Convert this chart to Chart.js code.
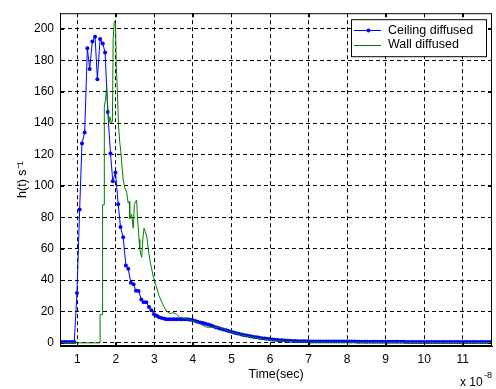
<!DOCTYPE html>
<html>
<head>
<meta charset="utf-8">
<script src="https://cdn.jsdelivr.net/npm/chart.js@4/dist/chart.umd.min.js"></script>
<style>
    body { margin: 0; background: #fff; }
    .chart-container { position: relative; width: 496px; height: 389px; }
</style>
</head>
<body>
<div class="chart-container"><canvas id="impulseChart"></canvas></div>
<script>
// Time axis is in units of 1e-8 s
const xTicks = [1, 2, 3, 4, 5, 6, 7, 8, 9, 10, 11];
const yTicks = [0, 20, 40, 60, 80, 100, 120, 140, 160, 180, 200];

// Ceiling diffused (blue, with markers)
const ceilingTime = [
    0.52, 0.59, 0.66, 0.72, 0.79, 0.86, 0.92, 0.99, 1.06, 1.12,
    1.19, 1.26, 1.32, 1.39, 1.46, 1.52, 1.59, 1.66, 1.72, 1.79,
    1.86, 1.92, 1.99, 2.06, 2.12, 2.19, 2.26, 2.32, 2.39, 2.46,
    2.52, 2.59, 2.66, 2.72, 2.79, 2.86, 2.92, 2.99, 3.06, 3.12,
    3.19, 3.26, 3.32, 3.39, 3.46, 3.52, 3.59, 3.66, 3.72, 3.79,
    3.86, 3.92, 3.99, 4.06, 4.12, 4.19, 4.26, 4.32, 4.39, 4.46,
    4.52, 4.59, 4.66, 4.72, 4.79, 4.86, 4.92, 4.99, 5.06, 5.12,
    5.19, 5.26, 5.32, 5.39, 5.46, 5.52, 5.59, 5.66, 5.72, 5.79,
    5.86, 5.92, 5.99, 6.06, 6.12, 6.19, 6.26, 6.32, 6.39, 6.46,
    6.52, 6.59, 6.66, 6.72, 6.79, 6.86, 6.92, 6.99, 7.06, 7.12,
    7.19, 7.26, 7.32, 7.39, 7.46, 7.52, 7.59, 7.66, 7.72, 7.79,
    7.86, 7.92, 7.99, 8.06, 8.12, 8.19, 8.26, 8.32, 8.39, 8.46,
    8.52, 8.59, 8.66, 8.72, 8.79, 8.86, 8.92, 8.99, 9.06, 9.12,
    9.19, 9.26, 9.32, 9.39, 9.46, 9.52, 9.59, 9.66, 9.72, 9.79,
    9.86, 9.92, 9.99, 10.06, 10.12, 10.19, 10.26, 10.32, 10.39, 10.46,
    10.52, 10.59, 10.66, 10.72, 10.79, 10.86, 10.92, 10.99, 11.06, 11.12,
    11.19, 11.26, 11.32, 11.39, 11.46, 11.52, 11.59, 11.66, 11.72, 11.79
];
const ceilingValues = [
    0.5, 0.5, 0.5, 0.5, 0.5, 0.5, 0.5, 31.7, 85, 127,
    134, 187.6, 174.5, 192, 195, 168, 193.6, 190.7, 185, 147,
    120.7, 103, 108.5, 88.3, 73.8, 67.2, 49.3, 47.2, 38.3, 37.3,
    33.2, 33.0, 27.6, 25.9, 25.9, 22.8, 20.7, 18.3, 17.2, 16.3,
    15.8, 15.4, 15.1, 15.1, 15.0, 15.1, 15.1, 15.1, 15.0, 15.1,
    15.0, 14.7, 14.5, 13.9, 13.4, 12.9, 12.6, 12.2, 11.7, 11.2,
    10.6, 10.0, 9.5, 9.0, 8.5, 8.0, 7.5, 7.0, 6.6, 6.2,
    5.8, 5.4, 5.0, 4.7, 4.4, 4.1, 3.8, 3.5, 3.2, 3.0,
    2.8, 2.6, 2.4, 2.2, 2.0, 1.9, 1.7, 1.6, 1.5, 1.4,
    1.3, 1.2, 1.2, 1.1, 1.1, 1.0, 1.0, 1.0, 0.9, 0.9,
    0.9, 0.9, 0.9, 0.9, 0.8, 0.8, 0.8, 0.8, 0.8, 0.8,
    0.8, 0.8, 0.8, 0.8, 0.8, 0.8, 0.7, 0.7, 0.7, 0.7,
    0.7, 0.7, 0.7, 0.7, 0.7, 0.7, 0.7, 0.7, 0.7, 0.7,
    0.7, 0.7, 0.7, 0.7, 0.7, 0.6, 0.6, 0.6, 0.6, 0.6,
    0.6, 0.6, 0.6, 0.6, 0.6, 0.6, 0.6, 0.6, 0.6, 0.6,
    0.6, 0.6, 0.6, 0.6, 0.6, 0.6, 0.6, 0.6, 0.6, 0.6,
    0.6, 0.6, 0.6, 0.6, 0.6, 0.6, 0.6, 0.6, 0.6, 0.6
];

// Wall diffused (green line)
const wallTime = [
    0.52, 1.59, 1.59, 1.65, 1.65, 1.66, 1.70, 1.70, 1.73, 1.76,
    1.79, 1.82, 1.85, 1.88, 1.91, 1.93, 1.96, 1.99, 2.01, 2.04,
    2.07, 2.10, 2.13, 2.16, 2.19, 2.23, 2.28, 2.32, 2.35, 2.36,
    2.41, 2.45, 2.48, 2.51, 2.54, 2.56, 2.58, 2.60, 2.62, 2.65,
    2.67, 2.70, 2.73, 2.76, 2.80, 2.84, 2.88, 2.93, 2.98, 3.05,
    3.12, 3.18, 3.24, 3.31, 3.41, 3.48, 3.57, 3.66, 3.83, 4.00,
    4.10, 4.20, 4.30, 4.35, 4.69, 4.80, 4.90, 5.00, 5.20, 5.40,
    5.60, 5.80, 6.00, 6.20, 6.40, 6.60, 6.80, 7.00, 7.50, 8.00,
    9.00, 10.00, 11.80
];
const wallValues = [
    0, 0, 18, 18, 76, 88, 88, 150, 155, 163,
    150, 140, 144, 140, 141, 194, 205, 204, 177, 160,
    138, 128, 121.7, 112, 104, 99, 96, 89, 90, 79,
    82, 73, 88, 90, 91, 80, 74, 66, 60, 56,
    54.5, 66, 73, 71, 68, 60, 53, 47, 41, 36,
    30, 26.5, 23.4, 20.3, 18.6, 19.3, 18.3, 16.1, 15.3, 14.1,
    13.0, 11.8, 10.5, 10.0, 9.9, 8.6, 7.5, 6.7, 5.3, 4.2,
    3.3, 2.5, 1.9, 1.4, 1.0, 0.8, 0.6, 0.5, 0.4, 0.3,
    0.3, 0.2, 0.2
];

const xMin = 0.55, xMax = 11.76;
const yMin = -2, yMax = 210;

const fontName = '"Liberation Sans", Arial, sans-serif';

// box round the axes, inward tick marks, legend and exponent label
const matlabFrame = {
    id: 'matlabFrame',
    afterDatasetsDraw(chart) {
        const ctx = chart.ctx;
        const area = chart.chartArea;
        const xs = chart.scales.x, ys = chart.scales.y;
        ctx.save();
        ctx.strokeStyle = '#000';
        ctx.lineWidth = 1;
        ctx.setLineDash([]);
        ctx.strokeRect(area.left + 0.5, area.top + 0.5, area.right - area.left - 1, area.bottom - area.top - 1);

        ctx.beginPath();
        xTicks.forEach(v => {
            const px = Math.round(xs.getPixelForValue(v)) + 0.5;
            ctx.moveTo(px, area.bottom); ctx.lineTo(px, area.bottom - 4);
            ctx.moveTo(px, area.top); ctx.lineTo(px, area.top + 4);
        });
        yTicks.forEach(v => {
            const py = Math.round(ys.getPixelForValue(v)) + 0.5;
            ctx.moveTo(area.left, py); ctx.lineTo(area.left + 4, py);
            ctx.moveTo(area.right, py); ctx.lineTo(area.right - 4, py);
        });
        ctx.stroke();

        // legend
        const lx = area.right - 141, ly = area.top + 6, lw = 135, lh = 37;
        ctx.fillStyle = '#fff';
        ctx.fillRect(lx, ly, lw, lh);
        ctx.strokeRect(lx + 0.5, ly + 0.5, lw, lh);
        ctx.font = '12.5px ' + fontName;
        ctx.textBaseline = 'middle';
        ctx.textAlign = 'left';
        chart.data.datasets.forEach((ds, i) => {
            const cy = ly + 11 + i * 14.3;
            ctx.strokeStyle = ds.borderColor;
            ctx.beginPath();
            ctx.moveTo(lx + 3, Math.round(cy) + 0.5);
            ctx.lineTo(lx + 30, Math.round(cy) + 0.5);
            ctx.stroke();
            if (ds.pointRadius > 0) {
                ctx.fillStyle = ds.borderColor;
                ctx.beginPath();
                ctx.arc(lx + 17.5, Math.round(cy) + 0.5, 2, 0, Math.PI * 2);
                ctx.fill();
            }
            ctx.fillStyle = '#000';
            ctx.fillText(ds.label, lx + 37, cy);
        });

        // x 10^-8
        ctx.font = '12px ' + fontName;
        ctx.fillText('x 10', 460, 383);
        ctx.font = '9px ' + fontName;
        ctx.fillText('-8', 484, 376);
        ctx.restore();
    }
};

function initChart() {
    const ctx = document.getElementById('impulseChart');
    if (typeof Chart === 'undefined' || !ctx) {
        console.error('Chart.js library not loaded');
        return;
    }

    new Chart(ctx, {
        type: 'line',
        data: {
            datasets: [{
                label: 'Ceiling diffused',
                data: ceilingTime.map((t, i) => ({ x: t, y: ceilingValues[i] })),
                borderColor: '#0000ff',
                backgroundColor: '#0000ff',
                borderWidth: 1,
                pointRadius: 2,
                pointBorderWidth: 0,
                pointBackgroundColor: '#0000ff',
                tension: 0,
                order: 1
            }, {
                label: 'Wall diffused',
                data: wallTime.map((t, i) => ({ x: t, y: wallValues[i] })),
                borderColor: '#008000',
                backgroundColor: '#008000',
                borderWidth: 1,
                pointRadius: 0,
                tension: 0,
                order: 0
            }]
        },
        options: {
            responsive: true,
            maintainAspectRatio: false,
            animation: false,
            events: [],
            layout: { padding: { top: 4, right: 3, left: 0, bottom: 0 } },
            plugins: {
                legend: { display: false },
                tooltip: { enabled: false }
            },
            scales: {
                x: {
                    type: 'linear',
                    min: xMin,
                    max: xMax,
                    afterBuildTicks: scale => { scale.ticks = xTicks.map(v => ({ value: v })); },
                    afterFit: scale => { scale.height = 43; },
                    grid: { color: '#000', lineWidth: 1, drawTicks: false },
                    border: { display: true, color: '#000', dash: [4, 3] },
                    ticks: {
                        color: '#000',
                        font: { family: fontName, size: 12 },
                        padding: 6,
                        maxRotation: 0
                    },
                    title: {
                        display: true,
                        text: 'Time(sec)',
                        color: '#000',
                        font: { family: fontName, size: 12.5 },
                        padding: { top: 0, bottom: 7 }
                    }
                },
                y: {
                    type: 'linear',
                    min: yMin,
                    max: yMax,
                    afterBuildTicks: scale => { scale.ticks = yTicks.map(v => ({ value: v })); },
                    afterFit: scale => { scale.width = 60; },
                    grid: { color: '#000', lineWidth: 1, drawTicks: false },
                    border: { display: true, color: '#000', dash: [4, 3] },
                    ticks: {
                        color: '#000',
                        font: { family: fontName, size: 12 },
                        padding: 6
                    },
                    title: {
                        display: true,
                        text: 'h(t) s\u207B\u00B9',
                        color: '#000',
                        font: { family: fontName, size: 12.5 },
                        padding: { top: 15, bottom: 0 }
                    }
                }
            }
        },
        plugins: [matlabFrame]
    });
}

document.addEventListener('DOMContentLoaded', initChart);
</script>
</body>
</html>
